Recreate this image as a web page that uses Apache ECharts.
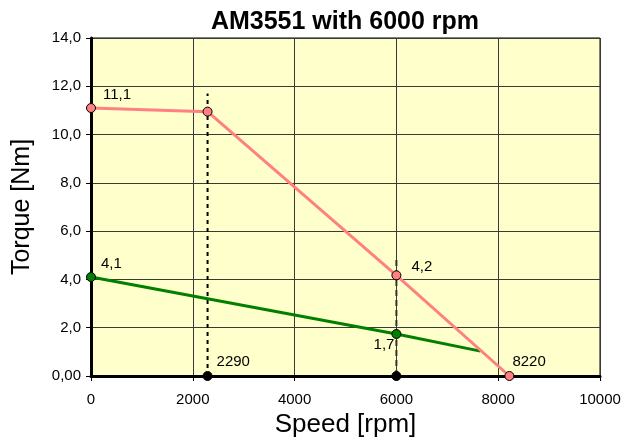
<!DOCTYPE html>
<html><head><meta charset="utf-8">
<script src="https://cdn.jsdelivr.net/npm/echarts@6/dist/echarts.min.js"></script>
<style>html,body{margin:0;padding:0;background:#fff}#c{width:638px;height:448px}</style>
</head><body><div id="c"></div>
<script>
// Data
const peakSpeed = [0, 2290, 6000, 8220];
const peakTorque = [11.1, 10.95, 4.17, 0];
const contSpeed = [0, 6000, 7650];
const contTorque = [4.1, 1.74, 1.03];
const markSpeed = [2290, 6000];
const markTorque = [0, 0];
const dash1 = [[2290, 0], [2290, 11.7]];
const dash2 = [[6000, 0], [6000, 4.9]];
const xTicks = [0, 2000, 4000, 6000, 8000, 10000];
const yTickLabels = ['0,00', '2,0', '4,0', '6,0', '8,0', '10,0', '12,0', '14,0'];

const FONT = 'Liberation Sans, Arial';
const fmt = v => v.toFixed(1).replace('.', ',');
const lblStyle = {fontFamily: FONT, fontSize: 15, color: '#000'};
const mk = (pos, off, text) => Object.assign({show: true, position: pos, offset: off, formatter: text}, lblStyle);

const peakData = peakSpeed.map((s, i) => {
  const d = {value: [s, peakTorque[i]]};
  if (i === 0) d.label = mk('right', [2, -13], fmt(peakTorque[i]));
  if (i === 2) d.label = mk('right', [5, -8], fmt(peakTorque[i]));
  if (i === 3) d.label = mk('right', [-7, -14], String(s));
  return d;
});
const contData = contSpeed.map((s, i) => {
  const d = {value: [s, contTorque[i]]};
  if (i === 0) d.label = mk('right', [0, -13], fmt(contTorque[i]));
  if (i === 1) d.label = mk('left', [8, 11], fmt(contTorque[i]));
  if (i === 2) { d.symbol = 'none'; d.symbolSize = 0; }
  return d;
});
const markData = markSpeed.map((s, i) => {
  const d = {value: [s, markTorque[i]]};
  if (i === 0) d.label = mk('right', [-1, -14], String(s));
  return d;
});

const chart = echarts.init(document.getElementById('c'), null, {renderer: 'canvas'});
chart.setOption({
  animation: false,
  title: {
    text: 'AM3551 with 6000 rpm', left: 340, textAlign: 'center', top: 5,
    textStyle: {fontFamily: FONT, fontWeight: 'bold', fontSize: 25, color: '#000'}
  },
  grid: {left: 91, right: 38, top: 38, bottom: 72, show: true, backgroundColor: '#FFFFCC', borderColor: '#000', borderWidth: 1},
  xAxis: {
    type: 'value', min: 0, max: 10000, interval: 2000,
    name: 'Speed [rpm]', nameLocation: 'middle', nameGap: 35,
    nameTextStyle: {fontFamily: FONT, fontSize: 26, color: '#000'},
    axisLine: {show: true, onZero: false, lineStyle: {color: '#000', width: 3}},
    axisTick: {show: true, length: 5, lineStyle: {color: '#000', width: 1}},
    axisLabel: {fontFamily: FONT, fontSize: 15, color: '#000', margin: 16, formatter: v => String(v)},
    splitLine: {show: true, lineStyle: {color: '#3a3a3a', width: 1}}
  },
  yAxis: {
    type: 'value', min: 0, max: 14, interval: 2,
    name: 'Torque [Nm]', nameLocation: 'middle', nameGap: 56, nameRotate: 90,
    nameTextStyle: {fontFamily: FONT, fontSize: 25, color: '#000'},
    axisLine: {show: true, onZero: false, lineStyle: {color: '#000', width: 3}},
    axisTick: {show: true, length: 5, lineStyle: {color: '#000', width: 1}},
    axisLabel: {fontFamily: FONT, fontSize: 15, color: '#000', margin: 10,
      formatter: v => yTickLabels[Math.round(v / 2)]},
    splitLine: {show: true, lineStyle: {color: '#3a3a3a', width: 1}}
  },
  series: [
    {type: 'line', data: dash1, symbol: 'none', lineStyle: {color: '#000', width: 2, type: [4, 4]}, z: 3},
    {type: 'line', data: dash2, symbol: 'none', lineStyle: {color: '#333', width: 2, type: [6, 4]}, z: 3},
    {type: 'line', data: contData, symbol: 'circle', symbolSize: 9,
      itemStyle: {color: '#008000', borderColor: '#000', borderWidth: 1},
      lineStyle: {color: '#008000', width: 3}, z: 4},
    {type: 'line', data: peakData, symbol: 'circle', symbolSize: 9,
      itemStyle: {color: '#FF8080', borderColor: '#000', borderWidth: 1},
      lineStyle: {color: '#FF8080', width: 3}, z: 5},
    {type: 'scatter', data: markData, symbol: 'circle', symbolSize: 9,
      itemStyle: {color: '#000', borderColor: '#000', borderWidth: 1, opacity: 1}, z: 6}
  ]
});
</script></body></html>
